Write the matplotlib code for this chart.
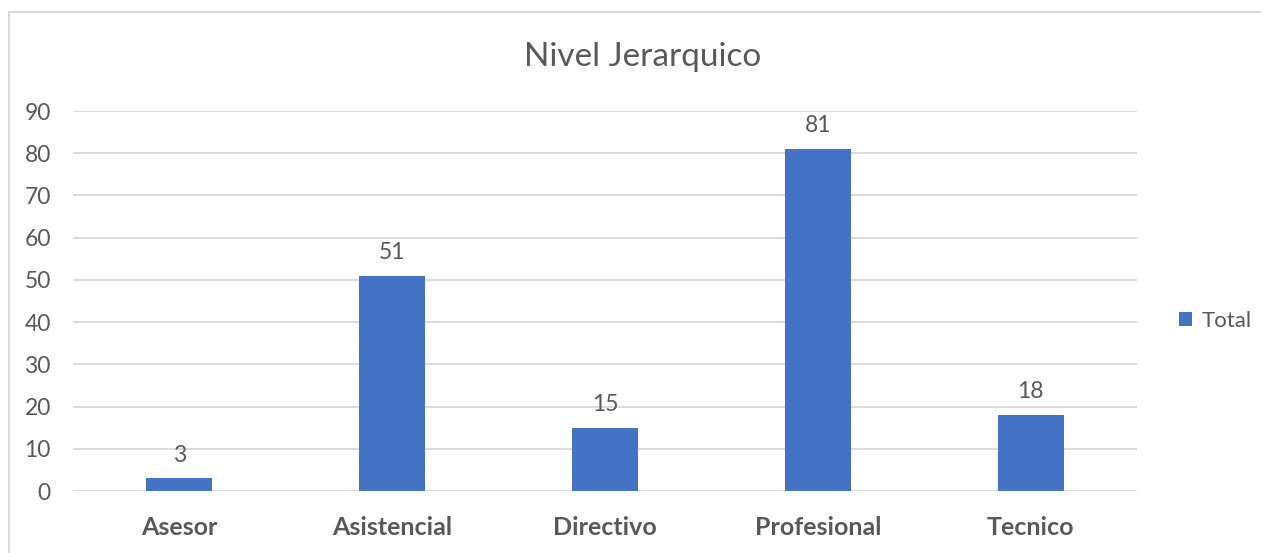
import matplotlib.pyplot as plt
import matplotlib.patches as patches

# ------------------------------
# Data
# ------------------------------
categories = ["Asesor", "Asistencial", "Directivo", "Profesional", "Tecnico"]
totals = [3, 51, 15, 81, 18]
y_ticks = [0, 10, 20, 30, 40, 50, 60, 70, 80, 90]

BAR_COLOR = "#4472C4"
TEXT_COLOR = "#595959"
GRID_COLOR = "#D9D9D9"

plt.rcParams["font.family"] = ["Lato", "DejaVu Sans"]

fig = plt.figure(figsize=(12.61, 5.53), dpi=100)
fig.patch.set_facecolor("white")

# light chart-area frame (runs off the right / bottom edges)
frame = patches.Rectangle((9 / 1261, -0.05), 1.1, 1 - 12 / 553 + 0.05,
                          transform=fig.transFigure, facecolor="none",
                          edgecolor=GRID_COLOR, linewidth=1.5, zorder=0)
fig.patches.append(frame)

ax = fig.add_axes([73 / 1261, 1 - 491 / 553, (1137 - 73) / 1261, (491 - 111) / 553])

x = range(len(categories))
bars = ax.bar(x, totals, width=0.31, color=BAR_COLOR, zorder=3, label="Total")

ax.set_xlim(-0.5, len(categories) - 0.5)
ax.set_ylim(0, 90)
ax.set_yticks(y_ticks)
ax.set_xticks(list(x))
ax.set_xticklabels(categories, fontsize=18, fontweight="bold", color=TEXT_COLOR)
ax.tick_params(axis="y", length=0, pad=16, labelsize=16.5, labelcolor=TEXT_COLOR)
ax.tick_params(axis="x", length=0, pad=18)

for s in ax.spines.values():
    s.set_visible(False)
ax.grid(axis="y", color=GRID_COLOR, linewidth=1.3, zorder=0)
ax.set_axisbelow(True)

# value labels
for xi, v in zip(x, totals):
    ax.annotate(f"{v}", (xi, v), xytext=(0, 9), textcoords="offset points",
                ha="center", va="bottom", fontsize=16.5, color=TEXT_COLOR)

fig.text(643 / 1261, 1 - 57 / 553, "Nivel Jerarquico", ha="center", va="center",
         fontsize=24, color=TEXT_COLOR)

leg = fig.legend(handles=[bars], labels=["Total"], loc="center left",
                 bbox_to_anchor=(1159 / 1261, 1 - 321 / 553), frameon=False,
                 handlelength=0.6, handleheight=0.6, handletextpad=0.4,
                 fontsize=16)
for t in leg.get_texts():
    t.set_color(TEXT_COLOR)

fig.savefig("out.png", dpi=100)
